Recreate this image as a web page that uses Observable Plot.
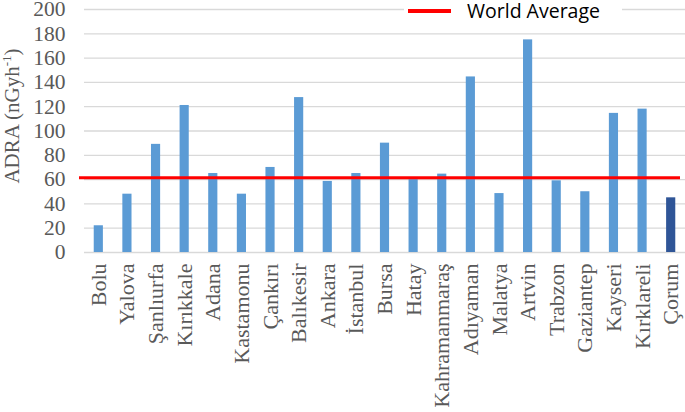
<!DOCTYPE html>
<html>
<head>
<meta charset="utf-8">
<script src="https://cdn.jsdelivr.net/npm/d3@7"></script>
<script src="https://cdn.jsdelivr.net/npm/@observablehq/plot@0.6"></script>
<style>
  html, body { margin: 0; padding: 0; background: #fff; }
  #wrap { position: relative; width: 685px; height: 412px; }
  #wrap svg, #wrap svg text { font-family: "Liberation Serif", "Times New Roman", serif !important; }
  #legend { position: absolute; left: 404px; top: 0px; width: 218px; height: 31px; background: #fff; }
  #legend .sw { position: absolute; left: 4px; top: 9px; width: 43px; height: 4px; background: #ff0000; }
  #legend .lb { position: absolute; left: 63px; top: 0px; line-height: 22px; font-family: "Open Sans", "Liberation Sans", sans-serif; font-size: 19.5px; color: #000; white-space: nowrap; }
</style>
</head>
<body>
<div id="wrap"><div id="legend"><div class="sw"></div><div class="lb">World Average</div></div></div>
<script>
const cities = ["Bolu","Yalova","Şanlıurfa","Kırıkkale","Adana","Kastamonu","Çankırı","Balıkesir","Ankara","İstanbul","Bursa","Hatay","Kahramanmaraş","Adıyaman","Malatya","Artvin","Trabzon","Gaziantep","Kayseri","Kırklareli","Çorum"];
const adra = [22, 48, 89, 121, 65, 48, 70, 127.5, 58.5, 65, 90, 60, 64.5, 144.5, 48.5, 175, 59, 50, 114.5, 118, 45];
const highlight = "Çorum";
const worldAverage = [61.5];
const yTicks = [0, 20, 40, 60, 80, 100, 120, 140, 160, 180, 200];

const data = cities.map((c, i) => ({city: c, value: adra[i]}));
const serif = "'Liberation Serif', 'Times New Roman', serif";

const chart = Plot.plot({
  width: 685,
  height: 412,
  marginLeft: 84,
  marginRight: 0,
  marginTop: 9,
  marginBottom: 160,
  style: {fontFamily: serif, fontSize: "21px", color: "#595959", background: "#fff"},
  x: {domain: cities, paddingInner: 0.68, paddingOuter: 0.34, round: false, label: null},
  y: {domain: [0, 200], label: null},
  marks: [
    Plot.gridY(yTicks, {stroke: "#d9d9d9", strokeOpacity: 1, strokeWidth: 1.3}),
    Plot.barY(data, {x: "city", y: "value", fill: d => d.city === highlight ? "#2f5597" : "#5b9bd5"}),
    Plot.ruleY(worldAverage, {stroke: "#ff0000", strokeWidth: 3, insetLeft: -5, insetRight: 5}),
    Plot.axisY({ticks: yTicks, tickSize: 0, tickPadding: 19, fontSize: 21.5, fontFamily: serif, fill: "#595959", label: null}),
    Plot.axisX({tickSize: 0, tickPadding: 11, tickRotate: -90, fontSize: 22, fontFamily: serif, fill: "#595959", label: null})
  ]
});

document.getElementById("wrap").prepend(chart);

// Y-axis title with superscript
const svg = d3.select(chart);
const t = svg.append("text")
  .attr("transform", "translate(19,116) rotate(-90)")
  .attr("text-anchor", "middle")
  .attr("font-family", serif)
  .attr("font-size", 21)
  .attr("fill", "#595959");
t.append("tspan").text("ADRA (nGyh");
t.append("tspan").attr("font-size", 13).attr("dy", -8).text("-1");
t.append("tspan").attr("dy", 8).text(")");
</script>
</body>
</html>
